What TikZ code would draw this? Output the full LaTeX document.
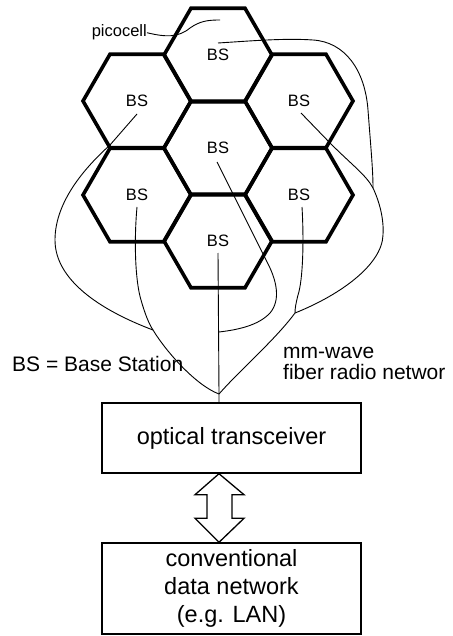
\documentclass[tikz,border=0pt]{standalone}
\usepackage{fontspec}
\setmainfont{Liberation Sans}
\usetikzlibrary{shapes.geometric,calc}
\begin{document}
\begin{tikzpicture}[x=1pt,y=-1pt,
  cell/.style={regular polygon,regular polygon sides=6,minimum size=108pt,inner sep=0pt,outer sep=0pt,draw,line width=3.6pt,font=\fontsize{16.5}{18}\selectfont},
  wire/.style={line width=0.9pt},
  box/.style={draw,line width=1.4pt,rectangle,minimum width=259pt,inner sep=0pt,align=center,font=\fontsize{23.5}{28}\selectfont},
  lbl/.style={font=\fontsize{21}{24}\selectfont,inner sep=0pt},
  smalllbl/.style={font=\fontsize{16.5}{18}\selectfont,inner sep=0pt}]
\useasboundingbox (0,0) rectangle (452,636);

% picocells
\node[cell] (t)  at (218,55)  {BS};
\node[cell] (ul) at (137,101) {BS};
\node[cell] (ur) at (299,101) {BS};
\node[cell] (c)  at (218,148) {BS};
\node[cell] (ll) at (137,195) {BS};
\node[cell] (lr) at (299,195) {BS};
\node[cell] (b)  at (218,241) {BS};

% labels
\node[smalllbl,anchor=base east] (pico) at (147,37) {picocell};
\draw[wire] (pico.east) .. controls (165,37) and (178,38) .. (190,28)
  .. controls (200,21) and (208,20) .. (220,20);

\node[lbl,anchor=base west] (bsl) at (12,371) {BS = Base Station};
\node[lbl,anchor=base west] (mm1) at (283,358) {mm-wave};
\node[lbl,anchor=base west] (mm2) at (283,379) {fiber radio networ};

% boxes
\node[box,minimum height=70pt] (ot) at (231.5,438) {optical transceiver};
\node[box,minimum height=91pt] (cdn) at (231.5,588.5) {conventional\\data network\\(e.g. LAN)};

% junctions
\coordinate (hub) at (219,394);
\coordinate (jl) at (153,330);
\coordinate (jr) at (295,313);
\coordinate (jc) at (219,332);
\coordinate (mr) at (373,188);

% fibres
\draw[wire] ($(b.center)+(0,12)$) -- (hub) -- (hub |- ot.north);
\draw[wire] ($(c.center)+(-1,14)$) -- (266,260)
  .. controls (277,280) and (281,300) .. (270,313)
  .. controls (258,326) and (236,330) .. (jc);
\draw[wire] ($(ul.center)+(0,13)$) -- (110,145)
  .. controls (80,172) and (55,205) .. (55,240)
  .. controls (55,280) and (100,310) .. (jl)
  .. controls (165,350) and (195,385) .. (hub);
\draw[wire] ($(ll.center)+(0,12)$) .. controls (134,240) and (135,280) .. (141,300)
  .. controls (145,314) and (149,324) .. (jl);
\draw[wire] ($(ur.center)+(2,12)$) -- (330,143)
  .. controls (352,165) and (366,175) .. (mr)
  .. controls (380,203) and (384,220) .. (383,235)
  .. controls (382,265) and (340,295) .. (jr)
  .. controls (275,340) and (240,370) .. (hub);
\draw[wire] ($(lr.center)+(3,12)$) .. controls (304,240) and (303,280) .. (298,295)
  .. controls (296,303) and (295,308) .. (jr);
\draw[wire] ($(t.center)+(0,-12)$) .. controls (250,41) and (285,38) .. (313,40)
  .. controls (345,42) and (365,70) .. (368,110)
  .. controls (371,150) and (373,170) .. (mr);

% double arrow
\coordinate (a) at (hub |- ot.south);
\coordinate (z) at (hub |- cdn.north);
\draw[line width=1.3pt,line join=miter]
  (a) -- ($(a)+(25,21)$) -- ($(a)+(13,21)$) -- ($(z)+(13,-24)$) -- ($(z)+(25,-24)$)
  -- (z) -- ($(z)+(-24,-24)$) -- ($(z)+(-12,-24)$) -- ($(a)+(-12,21)$) -- ($(a)+(-24,21)$) -- cycle;
\end{tikzpicture}
\end{document}
